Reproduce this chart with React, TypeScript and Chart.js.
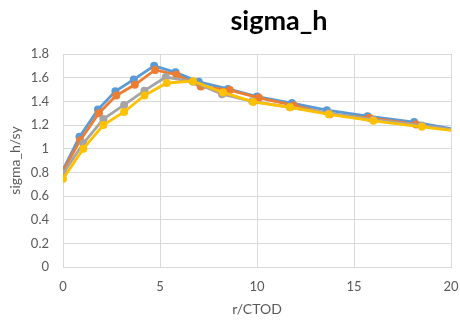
import React, { useEffect, useRef } from "react";
import { Chart, registerables } from "chart.js";

Chart.register(...registerables);

const TITLE = "sigma_h";
const X_TITLE = "r/CTOD";
const Y_TITLE = "sigma_h/sy";

const blueX = [0, 0.85, 1.8, 2.7, 3.65, 4.7, 5.8, 7.0, 8.5, 10.0, 11.8, 13.6, 15.7, 18.1, 20.6];
const blueY = [0.82, 1.1, 1.33, 1.485, 1.585, 1.7, 1.645, 1.565, 1.505, 1.44, 1.385, 1.325, 1.275, 1.225, 1.15];

const orangeX = [0, 0.88, 1.85, 2.75, 3.7, 4.75, 5.85, 7.1, 8.6, 10.1, 11.9, 13.75, 15.8, 18.2, 20.7];
const orangeY = [0.81, 1.07, 1.3, 1.45, 1.54, 1.665, 1.625, 1.525, 1.495, 1.43, 1.365, 1.29, 1.26, 1.205, 1.14];

const grayX = [0, 1.05, 2.08, 3.15, 4.2, 5.3, 6.7, 8.2, 9.75, 11.7, 13.7, 16.0, 18.5, 21.0];
const grayY = [0.79, 1.045, 1.25, 1.37, 1.49, 1.605, 1.565, 1.46, 1.4, 1.35, 1.3, 1.245, 1.195, 1.14];

const yellowX = [0, 1.05, 2.08, 3.15, 4.2, 5.35, 6.7, 8.25, 9.8, 11.7, 13.7, 16.0, 18.5, 21.0];
const yellowY = [0.745, 1.0, 1.2, 1.31, 1.45, 1.555, 1.57, 1.475, 1.395, 1.35, 1.29, 1.235, 1.185, 1.135];

const X_TICKS = [0, 5, 10, 15, 20];
const Y_TICKS = [0, 0.2, 0.4, 0.6, 0.8, 1, 1.2, 1.4, 1.6, 1.8];

const toPoints = (xs: number[], ys: number[]) => xs.map((x, i) => ({ x, y: ys[i] }));

const FONT = "Lato, 'Open Sans', sans-serif";
const TEXT = "#595959";
const GRID = "#D9D9D9";

const titlePlugin = {
  id: "customTitle",
  afterDraw(chart: any) {
    const ctx = chart.ctx;
    ctx.save();
    ctx.font = `bold 27px ${FONT}`;
    ctx.fillStyle = "#000000";
    ctx.textAlign = "center";
    ctx.textBaseline = "alphabetic";
    ctx.fillText(TITLE, 279, 30);
    ctx.restore();
  },
};

export default function App() {
  const ref = useRef<HTMLCanvasElement | null>(null);

  useEffect(() => {
    if (!ref.current) return;
    const mk = (label: string, xs: number[], ys: number[], color: string, order: number) => ({
      label,
      data: toPoints(xs, ys),
      borderColor: color,
      backgroundColor: color,
      pointBackgroundColor: color,
      pointBorderColor: color,
      pointRadius: 4,
      pointBorderWidth: 0,
      borderWidth: 2.8,
      tension: 0,
      order,
      showLine: true,
    });
    const chart = new Chart(ref.current, {
      type: "scatter",
      data: {
        datasets: [
          mk("s1", blueX, blueY, "#5B9BD5", 4),
          mk("s2", orangeX, orangeY, "#ED7D31", 3),
          mk("s3", grayX, grayY, "#A5A5A5", 2),
          mk("s4", yellowX, yellowY, "#FFC000", 1),
        ],
      },
      options: {
        responsive: false,
        animation: false,
        layout: { padding: { top: 54, right: 9, left: 0, bottom: 0 } },
        plugins: {
          legend: { display: false },
          title: { display: false },
          tooltip: { enabled: false },
        },
        scales: {
          x: {
            type: "linear",
            min: 0,
            max: 20,
            afterBuildTicks: (s: any) => {
              s.ticks = X_TICKS.map((v) => ({ value: v }));
            },
            afterFit: (s: any) => {
              s.height = 62;
              s.paddingLeft = 0;
              s.paddingRight = 0;
            },
            grid: { color: GRID, drawTicks: false, lineWidth: 1 },
            border: { color: GRID },
            ticks: {
              padding: 12,
              color: TEXT,
              font: { family: FONT, size: 13 },
              maxRotation: 0,
              callback: (v: any) => String(v),
            },
            title: {
              display: true,
              text: X_TITLE,
              color: TEXT,
              font: { family: FONT, size: 14 },
              padding: 11,
            },
          },
          y: {
            type: "linear",
            min: 0,
            max: 1.8,
            afterBuildTicks: (s: any) => {
              s.ticks = Y_TICKS.map((v) => ({ value: v }));
            },
            afterFit: (s: any) => {
              s.width = 63;
            },
            grid: { color: GRID, drawTicks: false, lineWidth: 1 },
            border: { color: GRID },
            ticks: {
              padding: 14,
              color: TEXT,
              font: { family: FONT, size: 13 },
              callback: (v: any) => String(Number(Number(v).toFixed(1))),
            },
            title: {
              display: true,
              text: Y_TITLE,
              color: TEXT,
              font: { family: FONT, size: 14 },
              padding: 7,
            },
          },
        },
      },
      plugins: [titlePlugin],
    } as any);
    return () => chart.destroy();
  }, []);

  return (
    <div style={{ position: "absolute", left: 0, top: 0, width: 460, height: 329, background: "#ffffff" }}>
      <canvas ref={ref} width={460} height={329} style={{ display: "block" }} />
    </div>
  );
}
